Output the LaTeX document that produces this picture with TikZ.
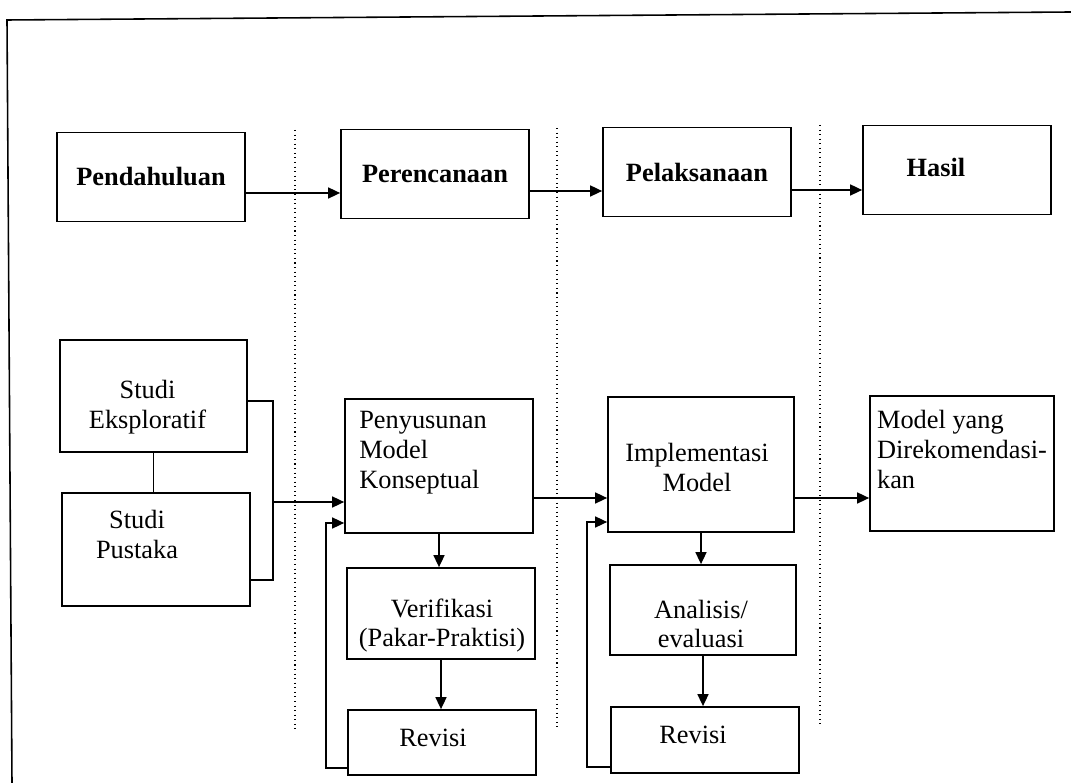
\documentclass[tikz,border=0pt]{standalone}
\usepackage{fontspec}
\setmainfont{Liberation Serif}
\usepackage{tikz}
\usetikzlibrary{arrows.meta, calc}

\tikzset{
    box/.style={draw, line width=1pt, inner sep=0pt},
    topbox/.style={box, minimum width=3.76cm, minimum height=1.78cm, font=\bfseries},
    arr/.style={-{Triangle[length=0.24cm, width=0.22cm]}, line width=0.9pt},
    sep/.style={dotted, line width=0.6pt},
}

\begin{document}
\fontsize{15}{17}\selectfont
\begin{tikzpicture}[x=0.02cm, y=-0.02cm]
        \useasboundingbox (0,0) rectangle (1071,783);
        \draw[line width=0.9pt] (12,783) -- (7,20) -- (1071,12);

        % phases
        \node[topbox] (pend) at (151,177) {Pendahuluan};
        \node[topbox] (per) at (435,174) {Perencanaan};
        \node[topbox] (pel) at (697,172) {Pelaksanaan};
        \node[topbox, label={[font=\bfseries, shift={(-21,-3)}]center:Hasil}] (hasil) at (957,170) {};

        \foreach \x/\t/\b in {295/130/730, 557/128/728, 820/125/727}
            \draw[sep] (\x,\t) -- (\x,\b);

        % steps
        \node[box, minimum width=3.74cm, minimum height=2.24cm, label={[align=center, shift={(-6,11)}]center:Studi\\Eksploratif}] (eks) at (153.5,396) {};
        \node[box, minimum width=3.76cm, minimum height=2.26cm, label={[align=center, shift={(-19,-15)}]center:Studi\\Pustaka}] (pus) at (156,549.5) {};
        \node[box, minimum width=3.76cm, minimum height=2.68cm, label={[align=left, shift={(-16,-13)}]center:Penyusunan\\Model\\Konseptual}] (pen) at (439,466) {};
        \node[box, minimum width=3.72cm, minimum height=2.70cm, label={[align=center, shift={(-4,3)}]center:Implementasi\\Model}] (imp) at (701,464.5) {};
        \node[box, minimum width=3.68cm, minimum height=2.70cm, label={[align=left, shift={(0,-14)}]center:Model yang\\Direkomendasi-\\kan}] (mod) at (962,463.5) {};
        \node[box, minimum width=3.76cm, minimum height=1.82cm, label={[align=center, shift={(1,12)}]center:Verifikasi\\(Pakar-Praktisi)}] (ver) at (441,613.5) {};
        \node[box, minimum width=3.76cm, minimum height=1.30cm, label={[shift={(-9,-5)}]center:Revisi}] (rev1) at (442,742.5) {};
        \node[box, minimum width=3.72cm, minimum height=1.80cm, label={[align=center, shift={(-2,14)}]center:Analisis/\\evaluasi}] (ana) at (703,610) {};
        \node[box, minimum width=3.76cm, minimum height=1.32cm, label={[shift={(-12,-5)}]center:Revisi}] (rev2) at (705,740) {};

        \draw[arr] ([yshift=-0.32cm]pend.east) -- ([yshift=-0.32cm]pend.east -| per.west);
        \draw[arr] ([yshift=-0.34cm]per.east) -- ([yshift=-0.34cm]per.east -| pel.west);
        \draw[arr] ([yshift=-0.36cm]pel.east) -- ([yshift=-0.36cm]pel.east -| hasil.west);

        \draw (eks.south) -- (eks.south |- pus.north);
        \coordinate (join) at (273,502);
        \draw[line width=0.9pt] ([yshift=-0.1cm]eks.east) -| (join) |- ([yshift=-0.61cm]pus.east);
        \draw[arr] (join) -- (join -| pen.west);

        \draw[arr] ([yshift=-0.64cm]pen.east) -- ([yshift=-0.64cm]pen.east -| imp.west);
        \draw[arr] ([yshift=-0.67cm]imp.east) -- ([yshift=-0.67cm]imp.east -| mod.west);

        \draw[arr] (pen.south) -- (pen.south |- ver.north);
        \draw[arr] (ver.south) -- (ver.south |- rev1.north);
        \draw[arr] (imp.south) -- (imp.south |- ana.north);
        \draw[arr] (ana.south) -- (ana.south |- rev2.north);

        \coordinate (back1) at (326,523);
        \draw[arr] ([yshift=-0.51cm]rev1.west) -| (back1) -- (back1 -| pen.west);
        \coordinate (back2) at (587,522);
        \draw[arr] ([yshift=-0.54cm]rev2.west) -| (back2) -- (back2 -| imp.west);
    \end{tikzpicture}
\end{document}
